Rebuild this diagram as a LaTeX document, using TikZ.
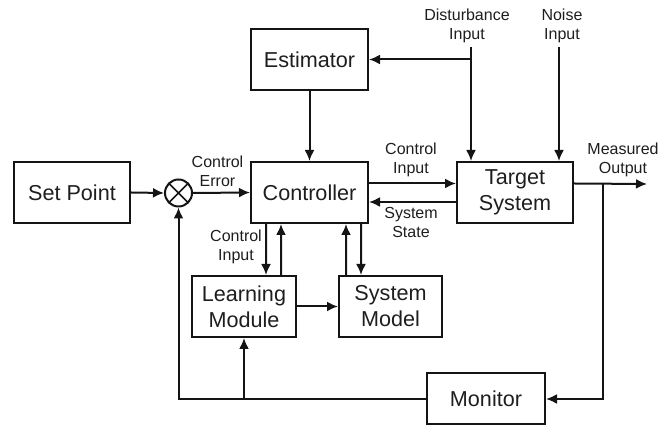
\documentclass[tikz,border=0pt]{standalone}
\usepackage{fontspec}
\setmainfont{Liberation Sans}
\usetikzlibrary{arrows.meta}
\definecolor{cLine}{RGB}{20, 20, 20}
\definecolor{cText}{RGB}{30, 30, 30}
\tikzset{
  B/.style    = {draw=cLine, line width=1pt, inner sep=0pt, align=center, text=cText,
                 font=\fontsize{10.8}{13}\selectfont, minimum height=30.5pt},
  blk/.style  = {B, minimum width=58.5pt},
  smB/.style  = {B, minimum width=52pt},
  sumN/.style = {draw=cLine, line width=1pt, circle, minimum size=13.5pt, inner sep=0pt,
                 path picture={\draw[line width=0.8pt]
                   (path picture bounding box.north west)--(path picture bounding box.south east)
                   (path picture bounding box.north east)--(path picture bounding box.south west);}},
  lbl/.style  = {font=\fontsize{8}{9.5}\selectfont, align=center, inner sep=0pt, text=cText},
  A/.style    = {-{Latex[length=5.5pt,width=5pt]}, line width=1pt, draw=cLine},
}

\begin{document}
\begin{tikzpicture}[x=5pt, y=-5pt]
\useasboundingbox (0,0) rectangle (67.1,42.6);

%% ─── Blocks ──────────────────────────────────────────────────
\node[blk, minimum width=58pt] (SP)  at (7.2,19.25)   {Set Point};
\node[sumN]                    (Sum) at (17.85,19.3)  {};
\node[blk]                     (Est) at (30.95,5.95)  {Estimator};
\node[blk]                     (Ctrl) at (30.95,19.25) {Controller};
\node[blk, minimum width=58pt] (Tgt) at (51.5,19.25)  {Target\\System};
\node[smB]                     (LM)  at (24.4,30.65)  {Learning\\Module};
\node[smB, minimum width=51.5pt] (SM) at (39.05,30.65) {System\\Model};
\node[blk, minimum width=59pt, minimum height=25.5pt] (Mon) at (48.6,39.9) {Monitor};

%% ─── External inputs / output ────────────────────────────────
\coordinate (dIn) at (47.1,4.7);
\coordinate (nIn) at (55.9,4.7);
\coordinate (out) at (64.7,18.4);
\coordinate (tap) at (60.3,18.4);

\node[lbl] (dLbl)  at (46.7,2.55)  {Disturbance\\Input};
\node[lbl] (nLbl)  at (56.2,2.55)  {Noise\\Input};
\node[lbl] (moLbl) at (62.3,16.0)  {Measured\\Output};
\node[lbl] (errLbl) at (21.75,17.1) {Control\\Error};
\node[lbl] (ciLbl) at (41.1,16.0)  {Control\\Input};
\node[lbl] (ssLbl) at (41.1,22.25) {System\\State};
\node[lbl] (ci2Lbl) at (23.6,24.7) {Control\\Input};

%% ─── Main loop ───────────────────────────────────────────────
\draw[A] (SP.east) -- (Sum.west);
\draw[A] (Sum.east) -- (Ctrl.west);
\draw[A] (Est.south) -- (Ctrl.north);
\draw[A] ([yshift=4.5pt]Ctrl.east) -- ([yshift=4.5pt]Tgt.west);
\draw[A] ([yshift=-4.75pt]Tgt.west) -- ([yshift=-4.75pt]Ctrl.east);

\draw[A] (dIn) -- (dIn |- Tgt.north);
\draw[A] (dIn |- Est.east) -- (Est.east);
\draw[A] (nIn) -- (nIn |- Tgt.north);

\draw[A] ([yshift=4.5pt]Tgt.east) -- (out);
\draw[A] (tap) |- (Mon.east);

%% ─── Feedback ────────────────────────────────────────────────
\draw[A] (Mon.west) -| (Sum.south);
\draw[A] (LM.south |- Mon.west) -- (LM.south);

%% ─── Learning / model ────────────────────────────────────────
\draw[A] ([xshift=-21.75pt]Ctrl.south) -- ([xshift=11pt]LM.north);
\draw[A] ([xshift=18.5pt]LM.north) -- ([xshift=-14.25pt]Ctrl.south);
\draw[A] ([xshift=-22.25pt]SM.north) -- ([xshift=18.25pt]Ctrl.south);
\draw[A] ([xshift=25.75pt]Ctrl.south) -- ([xshift=-14.75pt]SM.north);
\draw[A] (LM.east) -- (SM.west);

\end{tikzpicture}
\end{document}
